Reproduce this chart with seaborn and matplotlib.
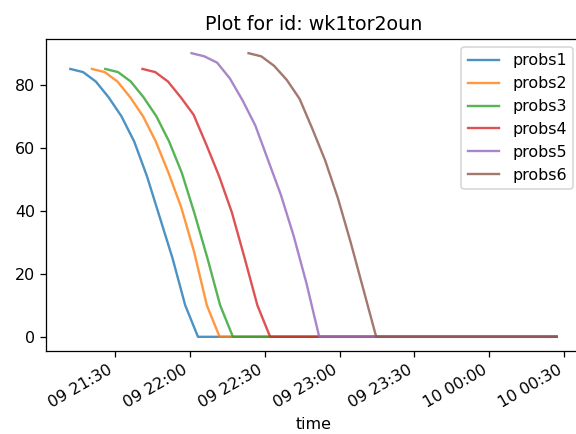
import pandas as pd
import matplotlib
matplotlib.use("Agg")
import matplotlib.pyplot as plt
import seaborn as sns

# values
series_names = ["probs1", "probs2", "probs3", "probs4", "probs5", "probs6"]
start_times = ["2020-06-09 21:12:05", "2020-06-09 21:20:45", "2020-06-09 21:26:05",
               "2020-06-09 21:41:00", "2020-06-09 22:00:40", "2020-06-09 22:23:30"]
end_time = "2020-06-10 00:27:00"

probs1 = [85, 84, 81, 76, 70, 62, 51, 38, 25, 10, 0]
probs2 = [85, 84, 81, 76, 70, 62, 52, 41, 27, 10, 0]
probs3 = [85, 84, 81, 76, 70, 62, 52, 39, 25, 10, 0]
probs4 = [85, 84, 81, 76, 70.5, 61, 51, 39.5, 25, 10, 0]
probs5 = [90, 89, 87, 82, 75, 67, 56, 45, 32, 17, 0]
probs6 = [90, 89, 86, 81.5, 75.5, 66, 56, 44, 30, 15, 0]
all_values = [probs1, probs2, probs3, probs4, probs5, probs6]

frames = []
for name, start, vals in zip(series_names, start_times, all_values):
    times = list(pd.date_range(start, periods=len(vals), freq="307s"))
    times.append(pd.Timestamp(end_time))
    frames.append(pd.DataFrame({"time": times, "prob": vals + [0], "series": name}))
df = pd.concat(frames, ignore_index=True)

dpi = 114
fig = plt.figure(figsize=(576 / dpi, 434 / dpi), dpi=dpi)
ax = fig.add_axes([46 / 576, (434 - 351) / 434, (581 - 46) / 576, (351 - 39) / 434])

sns.lineplot(data=df, x="time", y="prob", hue="series", estimator=None,
             palette="tab10", linewidth=1.5, alpha=0.8, ax=ax)
sns.move_legend(ax, "upper right", title=None)

ax.set_title("Plot for id: wk1tor2oun")
ax.set_xlabel("time")
ax.set_ylabel("")
fig.autofmt_xdate(rotation=30, ha="right")

fig.savefig("out.png", dpi=dpi)
